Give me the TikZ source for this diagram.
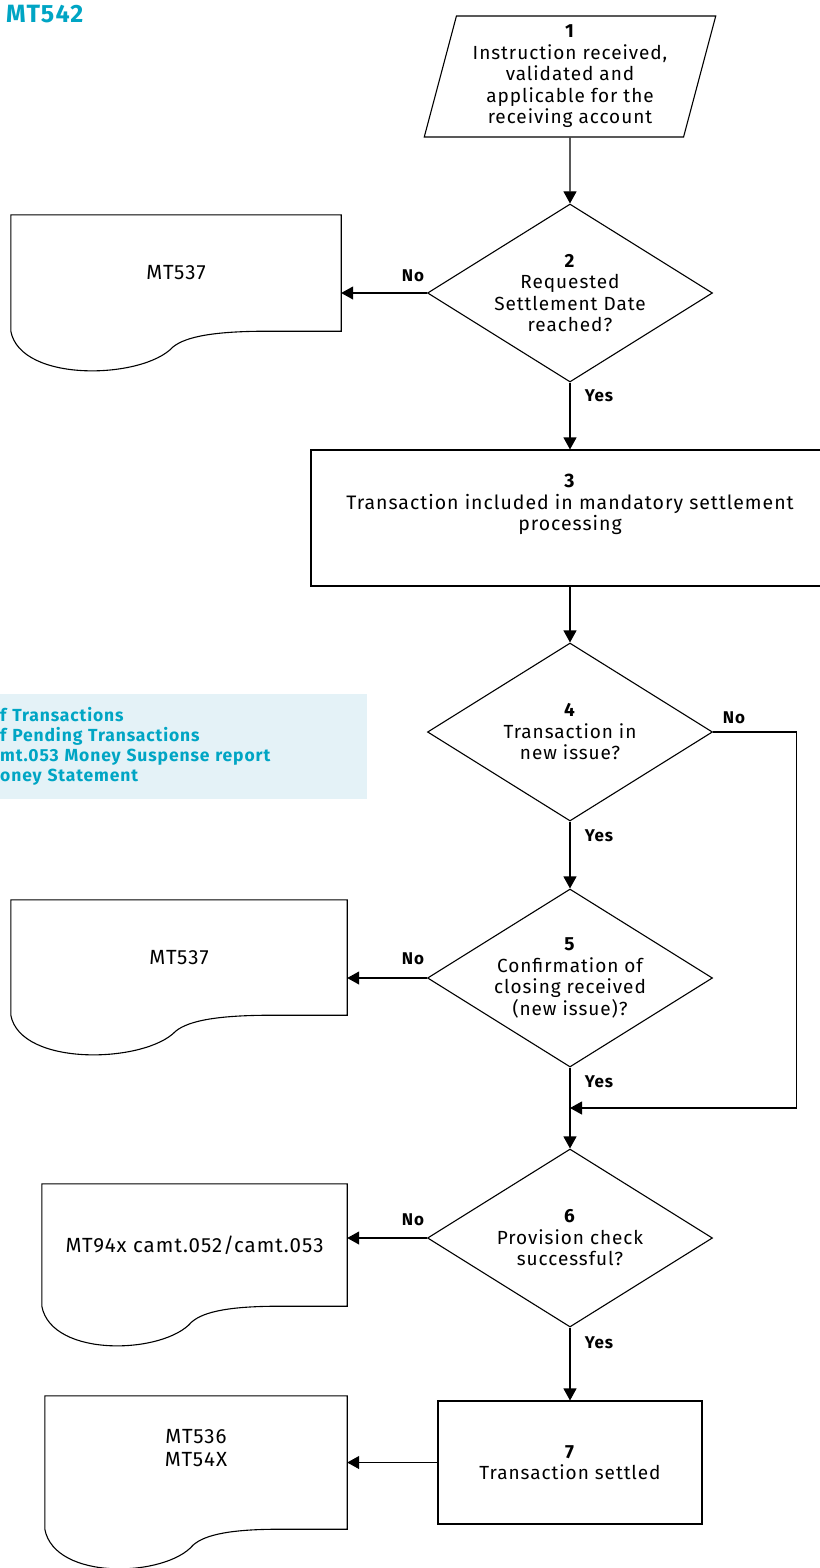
\documentclass[tikz,border=0pt]{standalone}
\usepackage{fontspec}
\setmainfont{Fira Sans}[LetterSpace=5]
\usepackage{tikz}
\usetikzlibrary{arrows.meta, shapes.geometric, calc, positioning}
\usepackage{xcolor}
\definecolor{sixcyan}{RGB}{0,165,196}
\definecolor{sixcyanlight}{RGB}{228,242,247}

% document symbol drawn round an (invisible) node
\newcommand{\docshape}[1]{%
  \draw[line width=1.1pt] (#1.north west) -- (#1.north east) -- (#1.south east)
    -- ($(#1.south west)!0.78!(#1.south east)$)
    .. controls ($(#1.south west)!0.62!(#1.south east)$) and ($(#1.south west)!0.53!(#1.south east)+(0,5)$)
    .. ($(#1.south west)!0.49!(#1.south east)+(0,16)$)
    .. controls ($(#1.south west)!0.40!(#1.south east)+(0,48)$) and ($(#1.south west)+(10,52)$)
    .. (#1.south west) -- cycle;}

\begin{document}
\begin{tikzpicture}[x=1pt,y=-1pt]

        \tikzset{
            box_base/.style={draw, line width=1.1pt, align=center, inner sep=0pt, font=\fontsize{19}{21.5}\selectfont},
            box_input/.style={box_base, trapezium, trapezium left angle=75, trapezium right angle=105,
                              trapezium stretches=true, minimum width=292pt, minimum height=121pt},
            box_process/.style={box_base, rectangle},
            box_decision/.style={box_base, diamond, aspect=1.6, minimum width=285pt, minimum height=178pt},
            box_doc/.style={rectangle, align=center, inner sep=0pt, font=\fontsize{20.5}{23}\selectfont},
            label_yesno/.style={font=\bfseries\fontsize{17}{20}\selectfont},
            connect/.style={-{Triangle[length=12pt, width=13pt]}, line width=1.1pt}
        }

        \useasboundingbox (0,0) rectangle (819,1568);

        \node[anchor=north west, inner sep=0pt, text=sixcyan, font=\bfseries\fontsize{25}{28}\selectfont] (title) at (6,5) {MT542};

        \node[fill=sixcyanlight, anchor=north west, minimum width=387pt, minimum height=105pt, inner xsep=20pt,
              text width=347pt, align=left, text=sixcyan, font=\bfseries\fontsize{17.5}{20}\selectfont] (legend) at (-20,694)
              {f Transactions\\f Pending Transactions\\mt.053 Money Suspense report\\oney Statement};

        \node[box_input] (step1) at (570,76.5) {\textbf{1}\\Instruction received,\\validated and\\applicable for the\\receiving account};
        \node[box_decision] (dec2) at (570,293) {\textbf{2}\\Requested\\Settlement Date\\reached?};
        \node[box_process, minimum width=518pt, minimum height=136pt] (step3) at (570,518) {};
        \node[align=center, font=\fontsize{19.5}{21.5}\selectfont, anchor=north] (step3txt) at (570,471)
              {\textbf{3}\\Transaction included in mandatory settlement\\processing};
        \node[box_decision] (dec4) at (570,732) {\textbf{4}\\Transaction in\\new issue?};
        \node[box_decision] (dec5) at (570,978) {\textbf{5}\\Confirmation of\\closing received\\(new issue)?};
        \node[box_decision] (dec6) at (570,1238) {\textbf{6}\\Provision check\\successful?};
        \node[box_process, minimum width=264pt, minimum height=123pt] (step7) at (570,1462.5) {\textbf{7}\\Transaction settled};

        \node[box_doc, minimum width=330pt, minimum height=116pt] (doc1) at (176,273) {MT537};
        \node[box_doc, minimum width=336pt, minimum height=115pt] (doc2) at (179,957.5) {MT537};
        \node[box_doc, minimum width=305pt, minimum height=122pt] (doc3) at (194.5,1245) {MT94x camt.052/camt.053};
        \node[box_doc, minimum width=302pt, minimum height=133pt] (doc4) at (196,1462.5) {};
        \node[box_doc] (doc4txt) at (196,1448) {MT536\\MT54X};

        \foreach \d in {doc1,doc2,doc3,doc4} {
            \docshape{\d}
        }

        \coordinate (merge) at (570,1108);

        \draw[connect] (step1) -- (dec2);
        \draw[connect] (dec2.west) -- (dec2.west -| doc1.east);
        \draw[connect] (dec2) -- (step3);
        \draw[connect] (step3) -- (dec4);
        \draw[connect] (dec4) -- (dec5);
        \draw[connect] (dec4.east) -- ++(83,0) |- (merge);
        \draw[connect] (dec5.west) -- (dec5.west -| doc2.east);
        \draw[connect] (dec5) -- (dec6);
        \draw[connect] (dec6.west) -- (dec6.west -| doc3.east);
        \draw[connect] (dec6) -- (step7);
        \draw[connect] (step7.west) -- (step7.west -| doc4.east);

        \foreach \name/\x/\y/\txt in {no2/413/276/No, yes2/599/396/Yes, no4/734/718/No, yes4/599/836/Yes,
                                     no5/413/959/No, yes5/599/1082/Yes, no6/413/1220/No, yes6/599/1343/Yes} {
            \node[label_yesno] (\name) at (\x,\y) {\txt};
        }

    \end{tikzpicture}
\end{document}
